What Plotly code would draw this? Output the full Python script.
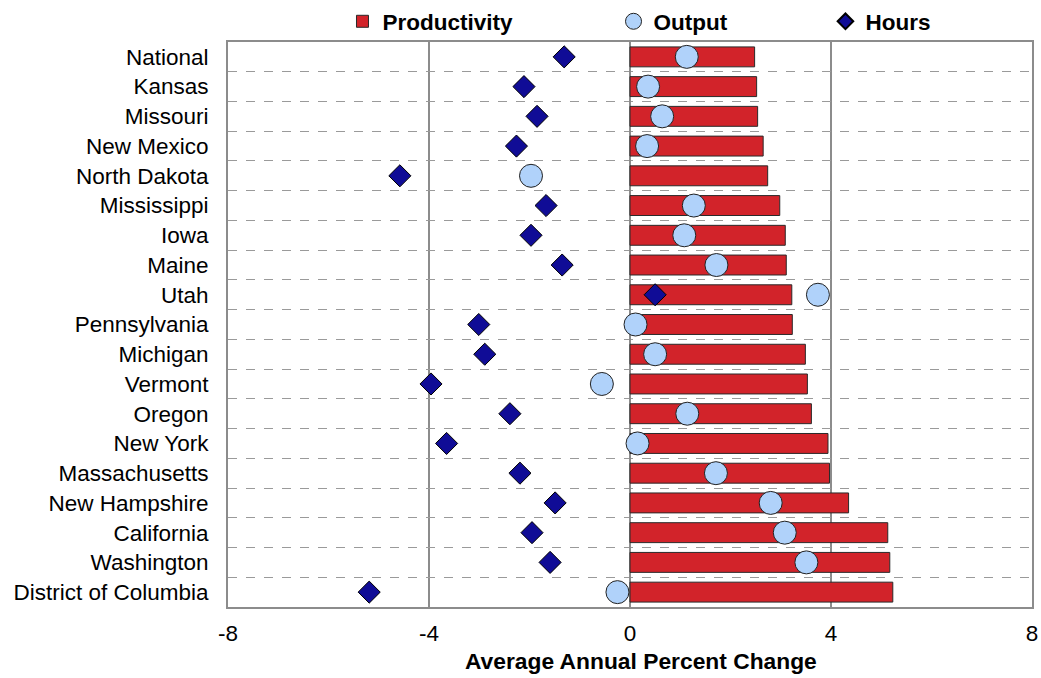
import plotly.graph_objects as go

states = ["National", "Kansas", "Missouri", "New Mexico", "North Dakota", "Mississippi",
          "Iowa", "Maine", "Utah", "Pennsylvania", "Michigan", "Vermont", "Oregon",
          "New York", "Massachusetts", "New Hampshire", "California", "Washington",
          "District of Columbia"]
productivity = [2.48, 2.52, 2.54, 2.65, 2.74, 2.98, 3.09, 3.11, 3.22, 3.23,
                3.49, 3.53, 3.61, 3.94, 3.97, 4.35, 5.13, 5.17, 5.23]
output = [1.13, 0.36, 0.64, 0.34, -1.97, 1.27, 1.08, 1.72, 3.74, 0.11,
          0.50, -0.56, 1.14, 0.15, 1.71, 2.80, 3.08, 3.51, -0.25]
hours = [-1.31, -2.11, -1.85, -2.26, -4.58, -1.67, -1.97, -1.35, 0.50, -3.01,
         -2.89, -3.96, -2.39, -3.65, -2.19, -1.49, -1.95, -1.59, -5.19]
x_ticks = [-8, -4, 0, 4, 8]

FONT = "Arial, Liberation Sans, sans-serif"
GRID = "#8c8c8c"
FS = 22.5

fig = go.Figure()
fig.add_trace(go.Bar(
    x=productivity, y=states, orientation="h", name="<b>Productivity</b>",
    width=0.67, marker=dict(color="#D2232A", line=dict(color="#2a2a2a", width=1)),
    legend="legend"))
fig.add_trace(go.Scatter(
    x=output, y=states, mode="markers", name="<b>Output</b>",
    marker=dict(symbol="circle", size=23, color="#B0D2FA",
                line=dict(color="#222222", width=1)),
    legend="legend2"))
fig.add_trace(go.Scatter(
    x=hours, y=states, mode="markers", name="<b>Hours</b>",
    marker=dict(symbol="diamond", size=17, color="#100C96",
                line=dict(color="#000000", width=1)),
    legend="legend3"))

leg_common = dict(orientation="h", yanchor="middle", y=1.036, xanchor="left",
                  bgcolor="rgba(0,0,0,0)", font=dict(family=FONT, size=FS, color="black"),
                  itemclick=False)
n = len(states)
fig.update_layout(
    width=1041, height=678,
    margin=dict(l=228, r=9, t=42, b=71, autoexpand=False),
    paper_bgcolor="white", plot_bgcolor="white",
    font=dict(family=FONT, size=FS, color="black"),
    showlegend=True,
    legend=dict(x=0.1424, **leg_common),
    legend2=dict(x=0.4795, **leg_common),
    legend3=dict(x=0.7431, itemsizing="constant", **leg_common),
    barmode="overlay",
    xaxis=dict(range=[-8, 8], tickvals=x_ticks, ticktext=[str(v) for v in x_ticks],
               showgrid=True, gridcolor=GRID, gridwidth=1.5,
               zeroline=True, zerolinecolor=GRID, zerolinewidth=1.5,
               showline=True, mirror=True, linecolor=GRID, linewidth=2,
               ticks="", ticklabelstandoff=5,
               tickfont=dict(family=FONT, size=FS, color="black"),
               automargin=False),
    yaxis=dict(type="category", categoryorder="array", categoryarray=states,
               range=[n - 0.5, -0.5], tickson="boundaries",
               showgrid=True, gridcolor="#9a9a9a", gridwidth=1, griddash="dash",
               showline=True, mirror=True, linecolor=GRID, linewidth=2,
               ticks="", ticklabelstandoff=13,
               tickfont=dict(family=FONT, size=FS, color="black"),
               automargin=False),
    annotations=[dict(text="<b>Average Annual Percent Change</b>", xref="paper", yref="paper",
                      x=0.514, y=-0.0961, xanchor="center", yanchor="middle",
                      showarrow=False, font=dict(family=FONT, size=22.8, color="black"))],
)

fig.write_html(
    "out.html",
    config={"displayModeBar": False},
    post_script="document.body.style.margin='0px';document.documentElement.style.overflow='hidden';",
)
